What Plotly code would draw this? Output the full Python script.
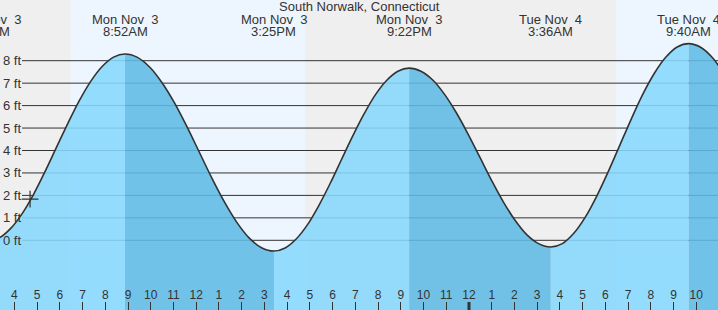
import plotly.graph_objects as go

# ---------------- data ----------------
station = "South Norwalk, Connecticut"

# tide extremes: hours since Mon Nov 3 00:00, height in ft
ext_hours = [2.833, 8.867, 15.417, 21.367, 27.600, 33.667]
ext_heights = [-0.03, 8.30, -0.48, 7.67, -0.30, 8.76]
ext_day = ["Mon Nov  3", "Mon Nov  3", "Mon Nov  3", "Mon Nov  3", "Tue Nov  4", "Tue Nov  4"]
ext_time = ["2:50AM", "8:52AM", "3:25PM", "9:22PM", "3:36AM", "9:40AM"]

# tide heights (hours since Mon 00:00, ft)
curve_hours = [2.833, 3.336, 3.839, 4.342, 4.845, 5.347, 5.850, 6.353, 6.856, 7.358, 7.861, 8.364,
               8.867, 9.413, 9.958, 10.504, 11.050, 11.596, 12.142, 12.688, 13.233, 13.779, 14.325, 14.871,
               15.417, 15.913, 16.408, 16.904, 17.400, 17.896, 18.392, 18.888, 19.383, 19.879, 20.375, 20.871,
               21.367, 21.886, 22.406, 22.925, 23.444, 23.964, 24.483, 25.003, 25.522, 26.042, 26.561, 27.081,
               27.600, 28.106, 28.611, 29.117, 29.622, 30.128, 30.633, 31.139, 31.644, 32.150, 32.656, 33.161,
               33.667, 34.190, 34.714, 35.238]
curve_heights = [-0.03, 0.11, 0.53, 1.19, 2.05, 3.06, 4.14, 5.21, 6.22, 7.08, 7.74, 8.16,
                 8.30, 8.15, 7.71, 7.01, 6.11, 5.05, 3.91, 2.77, 1.72, 0.81, 0.11, -0.33,
                 -0.48, -0.34, 0.07, 0.71, 1.56, 2.54, 3.60, 4.65, 5.63, 6.48, 7.12, 7.53,
                 7.67, 7.53, 7.14, 6.50, 5.68, 4.72, 3.69, 2.65, 1.69, 0.87, 0.23, -0.16,
                 -0.30, -0.15, 0.31, 1.03, 1.97, 3.06, 4.23, 5.40, 6.50, 7.43, 8.15, 8.61,
                 8.76, 8.60, 8.13, 7.39]

# daylight intervals (hours since Mon 00:00)
day_start = [6.47, 30.48]
day_end = [16.80, 36.0]

# current time marker
now_hour = 4.69
now_height = 1.83

# axis ticks
tick_hours = list(range(4, 36))
tick_labels = ["4", "5", "6", "7", "8", "9", "10", "11", "12", "1", "2", "3",
               "4", "5", "6", "7", "8", "9", "10", "11", "12", "1", "2", "3",
               "4", "5", "6", "7", "8", "9", "10", "11"]
midnight_hour = 24
ft_levels = [0, 1, 2, 3, 4, 5, 6, 7, 8]
ft_labels = [f"{v} ft" for v in ft_levels]

# ---------------- layout constants ----------------
W, H = 718, 310
XR = [3.367, 34.955]
YR = [-3.105, 10.704]
FONT = "Liberation Sans, Arial, sans-serif"
TXT = "#333333"
NIGHT = "#efefef"
DAY = "#edf6fe"
FILL_RISE = "rgba(136,216,253,0.88)"
FILL_FALL = "rgba(96,187,229,0.88)"
LINE = "#333333"
CLEAR = "rgba(0,0,0,0)"


def xpaper(h):
    return (h - XR[0]) / (XR[1] - XR[0])


fig = go.Figure()
layout_axes = {}

# water fill: full curve drawn on one hidden x-axis per rising/falling interval,
# each axis' domain covering only that interval so the fill is clipped there.
bounds = ext_hours + [max(curve_hours)]
nseg = len(bounds) - 1
for i in range(nseg):
    a, b = max(bounds[i], XR[0]), min(bounds[i + 1], XR[1])
    rising = (i + 1 < len(ext_heights) and ext_heights[i + 1] > ext_heights[i])
    axname = f"x{i + 2}"
    layout_axes[f"xaxis{i + 2}"] = dict(domain=[xpaper(a), xpaper(b)], range=[a, b],
                                        visible=False, anchor="y", fixedrange=True)
    fig.add_trace(go.Scatter(x=[curve_hours[0], curve_hours[-1]], y=[YR[0] - 1, YR[0] - 1],
                             xaxis=axname, yaxis="y", mode="lines",
                             line=dict(width=0, color=CLEAR),
                             hoverinfo="skip", showlegend=False))
    fig.add_trace(go.Scatter(x=curve_hours, y=curve_heights, xaxis=axname, yaxis="y",
                             mode="lines",
                             line=dict(width=0, shape="spline", color=CLEAR),
                             fill="tonexty",
                             fillcolor=FILL_RISE if rising else FILL_FALL,
                             hoverinfo="skip", showlegend=False))

top_ax = nseg + 2
top_name = f"x{top_ax}"

# tide curve outline (on top-most subplot)
fig.add_trace(go.Scatter(x=curve_hours, y=curve_heights, xaxis=top_name, yaxis="y",
                         mode="lines", line=dict(color=LINE, width=1.6, shape="spline"),
                         hoverinfo="skip", showlegend=False))

# current time marker
fig.add_trace(go.Scatter(x=[now_hour], y=[now_height], xaxis=top_name, yaxis="y",
                         mode="markers",
                         marker=dict(symbol="cross-thin", size=12,
                                     line=dict(color=LINE, width=1.2)),
                         hoverinfo="skip", showlegend=False))

shapes = []
for s, e in zip(day_start, day_end):
    shapes.append(dict(type="rect", xref="x", yref="paper", x0=s, x1=e, y0=0, y1=1,
                       fillcolor=DAY, line=dict(width=0), layer="below"))
for v in ft_levels:
    shapes.append(dict(type="line", xref="paper", yref="y", x0=22 / W, x1=1, y0=v, y1=v,
                       line=dict(color=LINE, width=1), layer="below"))
shapes.append(dict(type="line", xref="x", yref="paper", x0=midnight_hour, x1=midnight_hour,
                   y0=0, y1=8 / H, line=dict(color=LINE, width=3), layer="above"))

annotations = [dict(text=station, xref="paper", yref="paper", x=0.5, y=1 - 6.7 / H,
                    xanchor="center", yanchor="middle", showarrow=False,
                    font=dict(size=13, color=TXT, family=FONT))]
for h, d, t in zip(ext_hours, ext_day, ext_time):
    annotations.append(dict(text=d.replace("  ", "\u00a0 "), xref="paper", yref="paper",
                            x=xpaper(h), y=1 - 19.5 / H, xanchor="center", yanchor="middle",
                            showarrow=False, font=dict(size=13, color=TXT, family=FONT)))
    annotations.append(dict(text=t, xref="paper", yref="paper",
                            x=xpaper(h), y=1 - 31.7 / H, xanchor="center", yanchor="middle",
                            showarrow=False, font=dict(size=13, color=TXT, family=FONT)))
for v, lab in zip(ft_levels, ft_labels):
    annotations.append(dict(text=lab, xref="paper", yref="y", x=1.0 / W, y=v,
                            xanchor="left", yanchor="middle", showarrow=False,
                            font=dict(size=13, color=TXT, family=FONT)))

layout_axes[f"xaxis{top_ax}"] = dict(
    domain=[0, 1], range=XR, anchor="y", showgrid=False, zeroline=False, showline=False,
    tickvals=tick_hours, ticktext=tick_labels,
    ticks="inside", ticklen=8, tickwidth=1, tickcolor=LINE,
    ticklabelposition="inside", ticklabeloverflow="allow",
    tickfont=dict(size=12, color=TXT, family=FONT),
    automargin=False, fixedrange=True)

fig.update_layout(
    width=W, height=H, margin=dict(l=0, r=0, t=0, b=0, pad=0),
    paper_bgcolor=NIGHT, plot_bgcolor=CLEAR,
    shapes=shapes, annotations=annotations,
    font=dict(family=FONT, color=TXT, size=12),
    xaxis=dict(range=XR, domain=[0, 1], visible=False, fixedrange=True),
    yaxis=dict(range=YR, showgrid=False, zeroline=False, showline=False, anchor="x",
               showticklabels=False, ticks="", automargin=False, fixedrange=True),
    showlegend=False,
    **layout_axes,
)

fig.write_html("out.html", config=dict(displayModeBar=False))
